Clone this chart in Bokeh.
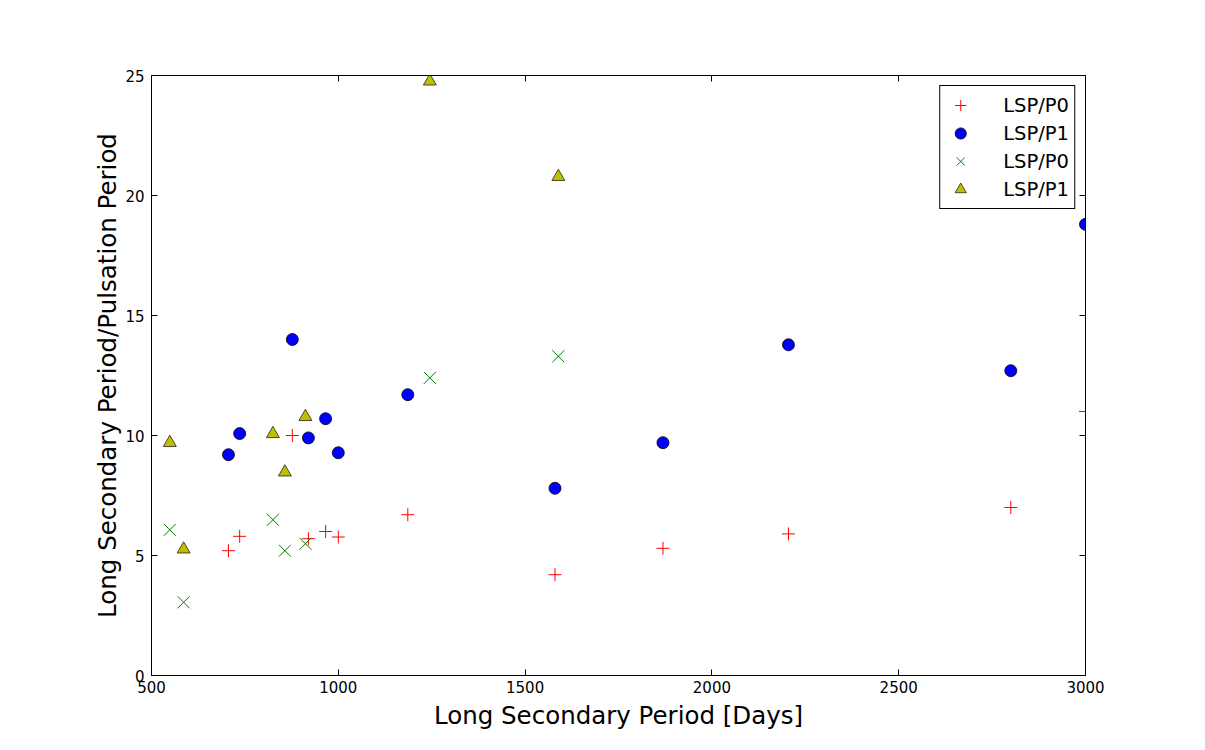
from bokeh.plotting import figure
from bokeh.models import LinearAxis, Range1d, FixedTicker, Legend, LegendItem
from bokeh.embed import file_html
from bokeh.resources import INLINE

# Long secondary period (days) for the first group of stars
lsp_a = [706, 736, 877, 920, 966, 1000, 1186, 1580, 1869, 2205, 2800, 3000]
ratio_p0_a = [5.2, 5.8, 10.0, 5.7, 6.0, 5.77, 6.7, 4.2, 5.3, 5.9, 7.0, 11.0]
ratio_p1_a = [9.2, 10.08, 14.0, 9.9, 10.7, 9.28, 11.7, 7.8, 9.7, 13.78, 12.7, 18.8]

# Second group of stars
lsp_b = [549, 586, 825, 857, 912, 1245, 1589]
ratio_p0_b = [6.07, 3.05, 6.49, 5.2, 5.49, 12.4, 13.3]
ratio_p1_b = [9.7, 5.26, 10.07, 8.47, 10.78, 24.76, 20.78]

x_ticks = [500, 1000, 1500, 2000, 2500, 3000]
y_ticks = [0, 5, 10, 15, 20, 25]

FONT = "DejaVu Sans"

p = figure(width=1189, height=734,
           x_range=Range1d(500, 3000), y_range=Range1d(0, 25),
           output_backend="svg", toolbar_location=None,
           min_border_left=151, min_border_right=104,
           min_border_top=75, min_border_bottom=59)

p.grid.visible = False
p.outline_line_color = "black"
p.outline_line_width = 1
p.background_fill_color = "white"
p.border_fill_color = "white"

bottom_axis = p.xaxis[0]
left_axis = p.yaxis[0]
bottom_axis.axis_label = "Long Secondary Period [Days]"
left_axis.axis_label = "Long Secondary Period/Pulsation Period"

top_axis = LinearAxis()
right_axis = LinearAxis()
p.add_layout(top_axis, "above")
p.add_layout(right_axis, "right")

for ax in [bottom_axis, top_axis]:
    ax.ticker = FixedTicker(ticks=x_ticks)
for ax in [left_axis, right_axis]:
    ax.ticker = FixedTicker(ticks=y_ticks)

for ax in [bottom_axis, left_axis, top_axis, right_axis]:
    ax.axis_line_color = "black"
    ax.axis_line_width = 1
    ax.major_tick_in = 6
    ax.major_tick_out = 0
    ax.major_tick_line_color = "black"
    ax.minor_tick_line_color = None
    ax.major_label_text_font = FONT
    ax.major_label_text_font_size = "15px"
    ax.major_label_text_color = "black"
    ax.axis_label_text_font = FONT
    ax.axis_label_text_font_size = "24.5px"
    ax.axis_label_text_font_style = "normal"
    ax.axis_label_text_color = "black"

for ax in [top_axis, right_axis]:
    ax.major_label_text_color = None
    ax.major_label_text_font_size = "1px"
    ax.major_label_standoff = 0

bottom_axis.major_label_standoff = 5
bottom_axis.axis_label_standoff = 5
left_axis.major_label_standoff = 7
left_axis.axis_label_standoff = 0

r1 = p.scatter(lsp_a, ratio_p0_a, marker="cross", size=13,
               line_color="#ff0000", line_width=1)
r2 = p.scatter(lsp_a, ratio_p1_a, marker="circle", size=12,
               fill_color="#0000ff", line_color="black", line_width=0.8)
r3 = p.scatter(lsp_b, ratio_p0_b, marker="x", size=17,
               line_color="#008000", line_width=1)
r4 = p.scatter(lsp_b, ratio_p1_b, marker="triangle", size=13,
               fill_color="#bfbf00", line_color="#222222", line_width=0.8)

legend = Legend(items=[
    LegendItem(label="LSP/P0", renderers=[r1]),
    LegendItem(label="LSP/P1", renderers=[r2]),
    LegendItem(label="LSP/P0", renderers=[r3]),
    LegendItem(label="LSP/P1", renderers=[r4]),
], location="top_right")
legend.margin = 10
legend.padding = 5
legend.spacing = 0
legend.glyph_width = 30
legend.glyph_height = 28
legend.label_height = 28
legend.label_standoff = 28
legend.label_text_font = FONT
legend.label_text_font_size = "19.5px"
legend.label_text_color = "black"
legend.label_text_baseline = "middle"
legend.border_line_color = "black"
legend.border_line_width = 1
legend.border_line_alpha = 1
legend.background_fill_color = "white"
legend.background_fill_alpha = 1
p.add_layout(legend)

open("out.html", "w").write(file_html(p, INLINE))
